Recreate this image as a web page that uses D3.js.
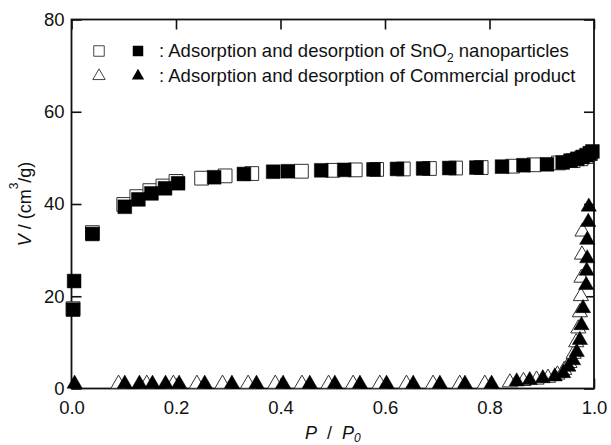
<!DOCTYPE html>
<html>
<head>
<meta charset="utf-8">
<script src="https://cdn.jsdelivr.net/npm/d3@7"></script>
<style>
    body { margin: 0; background: #fff; }
    svg text { font-family: Arial, "Liberation Sans", sans-serif; fill: #111; }
</style>
</head>
<body>
<div id="chart"></div>
<script>
"use strict"

// SnO2 nanoparticles, adsorption (open squares)
const sno2AdsP = [0.003, 0.040, 0.100, 0.125, 0.150, 0.175, 0.200, 0.249, 0.294, 0.345, 0.440, 0.500, 0.543, 0.584, 0.635, 0.685, 0.735, 0.784, 0.844, 0.885, 0.932, 0.960, 0.975, 0.985, 0.993];
const sno2AdsV = [17.3, 33.8, 39.9, 41.6, 42.9, 43.9, 44.9, 45.6, 46.1, 46.6, 47.1, 47.3, 47.4, 47.5, 47.6, 47.7, 47.8, 47.9, 48.2, 48.5, 48.9, 49.4, 49.8, 50.3, 50.9];

// SnO2 nanoparticles, desorption (filled squares)
const sno2DesP = [0.003, 0.005, 0.040, 0.102, 0.128, 0.153, 0.179, 0.204, 0.273, 0.330, 0.386, 0.414, 0.478, 0.522, 0.578, 0.623, 0.673, 0.723, 0.775, 0.824, 0.865, 0.910, 0.940, 0.955, 0.968, 0.978, 0.986, 0.992, 0.997];
const sno2DesV = [17.1, 23.3, 33.5, 39.4, 41.0, 42.3, 43.4, 44.5, 45.8, 46.5, 47.0, 47.1, 47.3, 47.4, 47.5, 47.6, 47.7, 47.8, 47.9, 48.1, 48.4, 48.6, 49.0, 49.4, 49.8, 50.2, 50.6, 51.0, 51.4];

// Commercial product, adsorption (open triangles)
const commAdsP = [0.090, 0.144, 0.195, 0.240, 0.289, 0.338, 0.390, 0.441, 0.492, 0.539, 0.590, 0.641, 0.692, 0.743, 0.791, 0.839, 0.865, 0.890, 0.912, 0.930, 0.943, 0.953, 0.961, 0.966, 0.970, 0.973, 0.975, 0.976, 0.977, 0.978];
const commAdsV = [1.0, 1.0, 1.0, 1.0, 1.0, 1.0, 1.0, 1.0, 1.0, 1.0, 1.0, 1.0, 1.0, 1.0, 1.0, 1.3, 1.6, 1.9, 2.3, 3.0, 4.0, 5.5, 7.5, 10.0, 13.0, 16.5, 20.0, 24.0, 29.0, 34.0];

// Commercial product, desorption (filled triangles)
const commDesP = [0.006, 0.102, 0.130, 0.155, 0.180, 0.206, 0.255, 0.307, 0.354, 0.405, 0.456, 0.504, 0.552, 0.603, 0.654, 0.705, 0.753, 0.804, 0.852, 0.877, 0.902, 0.925, 0.941, 0.951, 0.960, 0.967, 0.973, 0.976, 0.979, 0.985, 0.986, 0.987, 0.987, 0.989, 0.990];
const commDesV = [1.0, 1.0, 1.0, 1.0, 1.0, 1.0, 1.0, 1.0, 1.0, 1.0, 1.0, 1.0, 1.0, 1.0, 1.0, 1.0, 1.0, 1.0, 1.5, 1.8, 2.2, 2.6, 3.3, 4.7, 6.1, 7.9, 10.5, 13.7, 17.4, 22.4, 25.5, 28.2, 32.2, 36.1, 39.4];

const xTicks = [0, 0.2, 0.4, 0.6, 0.8, 1.0];
const yTicks = [0, 20, 40, 60, 80];

const legendRows = [
    { text: ": Adsorption and desorption of SnO", sub: "2", rest: " nanoparticles", shape: "square" },
    { text: ": Adsorption and desorption of Commercial product", sub: null, rest: null, shape: "triangle" }
];

let self = {
    width: 611,
    height: 445,
    plot: { left: 71.5, right: 594, top: 19.5, bottom: 388.5 },
    squareSize: 190,
    triangleSize: 100,
    tickLen: 10
};

let svg = d3.select("#chart").append("svg")
    .attr("width", self.width)
    .attr("height", self.height);

let x = d3.scaleLinear().domain([0, 1]).range([self.plot.left, self.plot.right]);
let y = d3.scaleLinear().domain([0, 80]).range([self.plot.bottom, self.plot.top]);

function zip(ps, vs) {
    return ps.map((p, i) => ({ p: p, v: vs[i] }));
}

/* frame and inward ticks */
function drawAxes() {
    let bottom = svg.append("g")
        .attr("transform", "translate(0," + self.plot.bottom + ")")
        .call(d3.axisBottom(x).tickValues(xTicks).tickSize(-self.tickLen).tickSizeOuter(0).tickPadding(12)
            .tickFormat(d3.format(".1f")));
    let left = svg.append("g")
        .attr("transform", "translate(" + self.plot.left + ",0)")
        .call(d3.axisLeft(y).tickValues(yTicks).tickSize(-self.tickLen).tickSizeOuter(0).tickPadding(7));
    let top = svg.append("g")
        .attr("transform", "translate(0," + self.plot.top + ")")
        .call(d3.axisTop(x).tickValues(xTicks).tickSize(-self.tickLen).tickSizeOuter(0).tickFormat(""));
    let right = svg.append("g")
        .attr("transform", "translate(" + self.plot.right + ",0)")
        .call(d3.axisRight(y).tickValues(yTicks).tickSize(-self.tickLen).tickSizeOuter(0).tickFormat(""));

    [bottom, left, top, right].forEach(g => {
        g.select(".domain").remove();
        g.selectAll(".tick line").attr("stroke", "#111").attr("stroke-width", 1.6);
        g.selectAll(".tick text")
            .style("font-size", "18.5px")
            .style("font-family", "Arial, 'Liberation Sans', sans-serif")
            .attr("fill", "#111");
    });

    svg.append("rect")
        .attr("x", self.plot.left)
        .attr("y", self.plot.top)
        .attr("width", self.plot.right - self.plot.left)
        .attr("height", self.plot.bottom - self.plot.top)
        .attr("fill", "none")
        .attr("stroke", "#111")
        .attr("stroke-width", 1.8);
}

/* axis titles */
function drawTitles() {
    let xt = svg.append("text")
        .attr("x", (self.plot.left + self.plot.right) / 2)
        .attr("y", 439)
        .attr("text-anchor", "middle")
        .style("font-size", "18px");
    xt.append("tspan").style("font-style", "italic").text("P");
    xt.append("tspan").attr("xml:space", "preserve").text("  /  ");
    xt.append("tspan").style("font-style", "italic").text("P");
    xt.append("tspan").style("font-style", "italic").style("font-size", "12px").attr("dy", 3).text("0");

    let yt = svg.append("text")
        .attr("transform", "translate(31," + ((self.plot.top + self.plot.bottom) / 2) + ") rotate(-90)")
        .attr("text-anchor", "middle")
        .style("font-size", "18px");
    yt.append("tspan").style("font-style", "italic").text("V");
    yt.append("tspan").text(" / (cm");
    yt.append("tspan").style("font-size", "12px").attr("dy", -13).text("3");
    yt.append("tspan").attr("dy", 13).text("/g)");
}

/* the four isotherm series */
function drawSeries(data, type, filled) {
    let sym = d3.symbol()
        .type(type === "square" ? d3.symbolSquare : d3.symbolTriangle)
        .size(type === "square" ? self.squareSize : self.triangleSize);

    svg.append("g")
        .selectAll("path")
        .data(data)
        .enter().append("path")
        .attr("transform", d => "translate(" + x(d.p) + "," + y(d.v) + ")")
        .attr("d", sym)
        .attr("fill", filled ? "#000" : "#fff")
        .attr("stroke", filled ? "#000" : "#333")
        .attr("stroke-width", filled ? 0.5 : 1);
}

function drawLegend() {
    legendRows.forEach((row, i) => {
        let cy = 51 + i * 25;
        let type = row.shape === "square" ? d3.symbolSquare : d3.symbolTriangle;
        let size = row.shape === "square" ? 110 : 66;

        svg.append("path")
            .attr("transform", "translate(99," + cy + ")")
            .attr("d", d3.symbol().type(type).size(size))
            .attr("fill", "#fff")
            .attr("stroke", "#444")
            .attr("stroke-width", 1);
        svg.append("path")
            .attr("transform", "translate(138," + cy + ")")
            .attr("d", d3.symbol().type(type).size(size))
            .attr("fill", "#000");

        let t = svg.append("text")
            .attr("x", 159)
            .attr("y", cy + 6)
            .style("font-size", "18.5px");
        t.append("tspan").text(row.text);
        if (row.sub) {
            t.append("tspan").style("font-size", "12px").attr("dy", 5).text(row.sub);
            t.append("tspan").attr("dy", -5).text(row.rest);
        }
    });
}

drawAxes();
drawSeries(zip(sno2AdsP, sno2AdsV), "square", false);
drawSeries(zip(sno2DesP, sno2DesV), "square", true);
drawSeries(zip(commAdsP, commAdsV), "triangle", false);
drawSeries(zip(commDesP, commDesV), "triangle", true);
drawTitles();
drawLegend();
</script>
</body>
</html>
